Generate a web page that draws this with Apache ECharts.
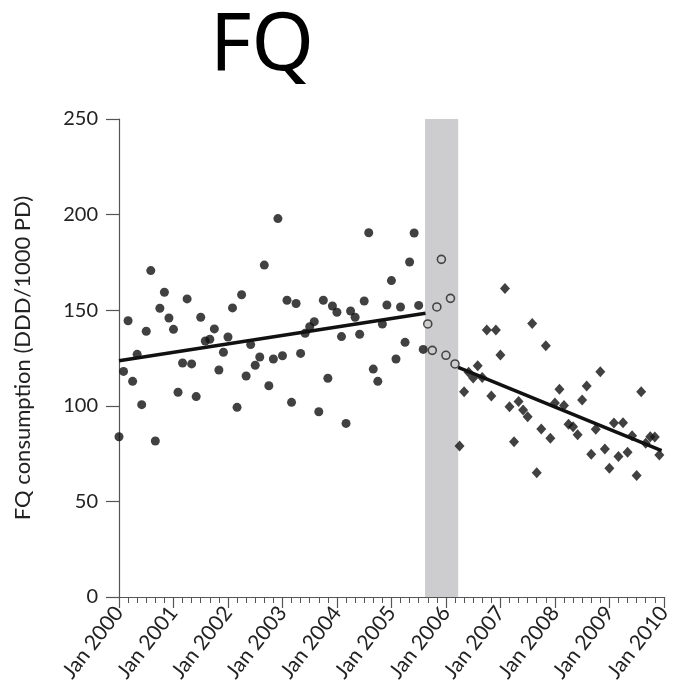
<!DOCTYPE html>
<html><head><meta charset="utf-8">
<script src="https://cdn.jsdelivr.net/npm/echarts@6/dist/echarts.min.js"></script>
<style>html,body{margin:0;padding:0;background:#fff}#c{width:674px;height:698px}</style>
</head><body><div id="c"></div>
<script>
// month index 0 = Jan 2000
const preStart = 0;
const preValues = [83.8,118.0,144.5,112.8,126.9,100.6,139.0,170.7,81.6,151.0,159.4,145.9,
  140.0,107.1,122.4,155.9,121.9,104.8,146.3,133.9,134.8,140.2,118.7,128.0,
  136.0,151.2,99.2,158.1,115.6,132.0,121.2,125.5,173.6,110.5,124.5,197.9,
  126.2,155.2,101.8,153.5,127.4,137.9,141.4,144.0,96.9,155.2,114.4,152.2,
  148.9,136.2,90.8,149.6,146.3,137.4,154.8,190.5,119.2,112.8,142.8,152.7,
  165.5,124.5,151.7,133.2,175.2,190.4,152.5,129.5];
const transStart = 68;
const transValues = [142.8,129.0,151.7,176.6,126.4,156.2,121.9];
const postStart = 75;
const postValues = [79.0,107.4,117.5,114.5,120.9,114.8,139.6,105.1,139.6,126.6,161.4,99.5,
  81.2,102.2,97.8,94.3,143.1,65.0,87.9,131.4,83.0,101.4,108.7,100.1,
  90.3,89.1,84.8,103.0,110.4,74.7,87.7,117.8,77.4,67.3,91.0,73.5,
  91.2,75.7,84.3,63.6,107.4,80.4,83.8,83.7,74.3];
const trendPreX = [0, 67.5], trendPreY = [123.6, 148.4];
const trendPostX = [74.7, 119.5], trendPostY = [120.1, 76.5];
const bandRange = [67.4, 74.7];
const yTicks = [0, 50, 100, 150, 200, 250];

const pts = (start, vals) => vals.map((v, i) => [start + i, v]);
const line = (xs, ys) => xs.map((x, i) => [x, ys[i]]);

const chart = echarts.init(document.getElementById('c'), null, {renderer: 'canvas'});
const FONT = 'Lato, "Open Sans", sans-serif';
chart.setOption({
  animation: false,
  title: {
    text: 'FQ', left: 205, top: 2,
    textStyle: {fontFamily: '"Noto Sans", sans-serif', fontSize: 80, fontWeight: 'normal', color: '#000'}
  },
  grid: {left: 119, right: 5, top: 119, bottom: 101, containLabel: false},
  xAxis: {
    type: 'value', min: 0, max: 120, interval: 12,
    axisLine: {lineStyle: {color: '#555', width: 1.2}},
    axisTick: {show: true, inside: false, length: 11, lineStyle: {color: '#555', width: 1.2}},
    minorTick: {show: true, splitNumber: 6, length: 6, lineStyle: {color: '#555', width: 1}},
    splitLine: {show: false},
    axisLabel: {
      rotate: 52, margin: 12, fontSize: 21, color: '#222', fontFamily: FONT,
      formatter: v => (v % 12 === 0 ? 'Jan ' + (2000 + v / 12) : '')
    }
  },
  yAxis: {
    type: 'value', min: yTicks[0], max: yTicks[yTicks.length - 1], interval: 50, offset: 3,
    name: 'FQ consumption (DDD/1000 PD)', nameLocation: 'middle', nameGap: 82,
    nameTextStyle: {fontSize: 22, color: '#222', fontFamily: FONT},
    axisLine: {show: true, lineStyle: {color: '#555', width: 1.2}},
    axisTick: {show: true, inside: false, length: 13, lineStyle: {color: '#555', width: 1.2}},
    splitLine: {show: false},
    axisLabel: {fontSize: 20, color: '#222', margin: 18, fontFamily: FONT}
  },
  series: [
    {
      type: 'line', data: [], silent: true,
      markArea: {silent: true, itemStyle: {color: '#cdcdd0'}, data: [[{xAxis: bandRange[0]}, {xAxis: bandRange[1]}]]}
    },
    {type: 'line', data: line(trendPreX, trendPreY), symbol: 'none', lineStyle: {color: '#111', width: 3.5}, z: 3},
    {type: 'line', data: line(trendPostX, trendPostY), symbol: 'none', lineStyle: {color: '#111', width: 3.5}, z: 3},
    {type: 'scatter', data: pts(preStart, preValues), symbol: 'circle', symbolSize: 9, itemStyle: {color: '#111'}, z: 4},
    {type: 'scatter', data: pts(transStart, transValues), symbol: 'circle', symbolSize: 8,
      itemStyle: {color: 'rgba(0,0,0,0)', borderColor: '#222', borderWidth: 1.6}, z: 4},
    {type: 'scatter', data: pts(postStart, postValues), symbol: 'diamond', symbolSize: [10, 11], itemStyle: {color: '#111'}, z: 4}
  ]
});
</script>
</body></html>
